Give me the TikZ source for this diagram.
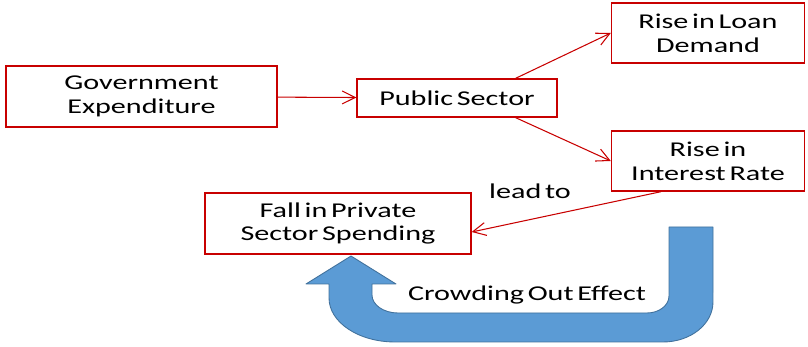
\documentclass[tikz,border=0pt]{standalone}
\usepackage{fontspec}
\setmainfont{Carlito}[FakeStretch=1.43,WordSpace=0.55]
\usepackage{xcolor}
\usepackage{tikz}
\usetikzlibrary{arrows.meta,positioning}

\definecolor{boxred}{RGB}{200,0,0}
\definecolor{turnblue}{RGB}{91,155,213}
\definecolor{turnedge}{RGB}{65,113,156}

\begin{document}
\begin{tikzpicture}[
      x=0.02cm,y=0.02cm,
      box/.style={draw=boxred,line width=0.8pt,fill=white,align=center,font=\fontsize{12}{13.6}\selectfont},
      note/.style={align=center,font=\fontsize{12}{13.6}\selectfont},
      link/.style={draw=boxred,line width=0.6pt,-{Straight Barb[length=2.6mm,width=2.6mm]}}
]
\useasboundingbox (0,0) rectangle (808,347);
\node[box,minimum width=5.42cm,minimum height=1.22cm] (gov) at (141.5,250.5) {Government\\Expenditure};
\node[box,minimum width=4.0cm,minimum height=0.76cm] (pub) at (457,249) {Public Sector};
\node[box,minimum width=3.86cm,minimum height=1.2cm] (loan) at (708,314) {Rise in Loan\\Demand};
\node[box,minimum width=3.86cm,minimum height=1.2cm] (rate) at (708,186) {Rise in\\Interest Rate};
\node[box,minimum width=5.32cm,minimum height=1.22cm] (fall) at (338,123.5) {Fall in Private\\Sector Spending};
\draw[link] (gov) -- (pub);
\draw[link] ([xshift=-0.84cm]pub.north east) -- (loan.west);
\draw[link] ([xshift=-0.84cm]pub.south east) -- (rate.west);
\draw[link] ([xshift=-0.94cm]rate.south) -- ([yshift=-0.17cm]fall.east);
\node[note] (leadto) at (530,156) {lead to};
% u-turn arrow back up to the spending box
\draw[fill=turnblue,draw=turnedge,line width=0.5pt,line join=round]
  (669,120) -- (669,51) arc[start angle=0,end angle=-90,x radius=0.44cm,y radius=0.34cm]
  -- (398,34) arc[start angle=-90,end angle=-180,x radius=0.52cm,y radius=0.36cm]
  -- (372,63) -- (396,63) -- (351,91) -- (306,63) -- (329,63)
  -- (329,49) arc[start angle=180,end angle=270,x radius=1.32cm,y radius=0.88cm]
  -- (663,5) arc[start angle=270,end angle=360,x radius=1.0cm,y radius=0.8cm]
  -- (713,120) -- cycle;
\node[note] (crowd) at (527,52) {Crowding Out Effect};
\end{tikzpicture}
\end{document}
